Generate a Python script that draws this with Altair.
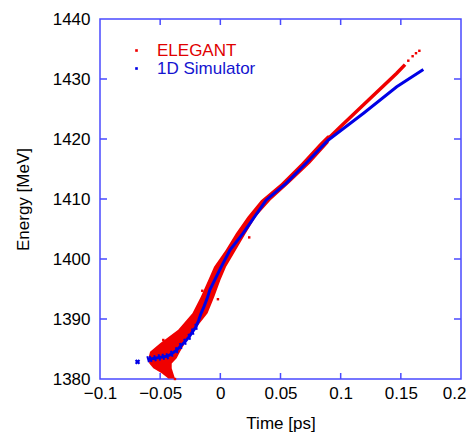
import altair as alt
import pandas as pd

RED = "#f00000"
BLUE = "#0000e6"
FRAME = "#4a4aff"

# ELEGANT: dense band of particles (energy level, left edge time, right edge time)
band_y = [1380.1, 1380.95, 1381.8, 1382.6, 1383.45, 1384.55, 1385.95, 1388.2, 1390.95,
          1393.7, 1396.5, 1398.7, 1401.5, 1404.3, 1407.05, 1409.8, 1412.6, 1415.95, 1419.3, 1420.6]
band_xl = [-0.0432, -0.0487, -0.0557, -0.0590, -0.0598, -0.0584, -0.0500, -0.0350, -0.0232,
           -0.0162, -0.0100, -0.0052, 0.0045, 0.0130, 0.0226, 0.0338, 0.0503, 0.0672, 0.0825, 0.0890]
band_xr = [-0.0377, -0.0391, -0.0404, -0.0404, -0.0363, -0.0335, -0.0294, -0.0214, -0.0106,
           -0.0050, 0.0001, 0.0048, 0.0130, 0.0212, 0.0295, 0.0418, 0.0571, 0.0748, 0.0898, 0.0925]
# ELEGANT upper thin trace
red_x = [0.0711, 0.0862, 0.1000, 0.1190, 0.1466, 0.1535]
red_y = [1415.95, 1419.4, 1422.1, 1425.7, 1430.95, 1432.4]
# ELEGANT isolated particles
red_dot_x = [0.1562, 0.1598, 0.1626, 0.1654, -0.0474, -0.0377, -0.0020, -0.0150, 0.0240]
red_dot_y = [1433.05, 1433.8, 1434.3, 1434.7, 1386.5, 1380.0, 1393.3, 1394.7, 1403.6]

# 1D Simulator
blue_x = [-0.0600, -0.0579, -0.0543, -0.0507, -0.0474, -0.0441, -0.0404, -0.0363, -0.0330,
          -0.0294, -0.0258, -0.0230, -0.0202, -0.0180, -0.0160, -0.0135, -0.0110, -0.0086,
          0.0000, 0.0080, 0.0190, 0.0380, 0.0546, 0.0712, 0.0895, 0.1190, 0.1466, 0.1687]
blue_y = [1383.3, 1383.33, 1383.45, 1383.6, 1383.7, 1383.8, 1384.2, 1384.8, 1385.5,
          1386.2, 1387.05, 1387.9, 1388.7, 1389.8, 1390.95, 1392.1, 1393.4, 1394.9,
          1398.4, 1401.5, 1404.3, 1409.8, 1412.6, 1415.95, 1419.8, 1424.3, 1428.7, 1431.6]
blob_x = [-0.0688]
blob_y = [1382.85]

series_names = ["ELEGANT", "1D Simulator"]
x_ticks = [-0.1, -0.05, 0, 0.05, 0.1, 0.15, 0.2]
y_ticks = [1380, 1390, 1400, 1410, 1420, 1430, 1440]
inner_x_ticks = [-0.05, 0, 0.05, 0.1, 0.15]
inner_y_ticks = [1390, 1400, 1410, 1420, 1430]

xs = alt.Scale(domain=[-0.1, 0.2], nice=False, zero=False)
ys = alt.Scale(domain=[1380, 1440], nice=False, zero=False)
xaxis = alt.Axis(
    title="Time [ps]", values=x_ticks, format="~g", labelPadding=6, titlePadding=14,
    labelFlush=False, labelOverlap=False,
    labelAlign={"expr": "datum.value > 0.19 ? 'right' : 'center'"},
    labelOffset={"expr": "datum.value > 0.19 ? 5 : 0"},
)
yaxis = alt.Axis(title="Energy [MeV]", values=y_ticks, format="d", labelPadding=10, titlePadding=20,
                 labelFlush=False, labelOverlap=False)


def X(field):
    return alt.X(f"{field}:Q", scale=xs, axis=xaxis)


def Y(field):
    return alt.Y(f"{field}:Q", scale=ys, axis=yaxis)


band_df = pd.DataFrame({"y": band_y, "xl": band_xl, "xr": band_xr})
red_df = pd.DataFrame({"x": red_x, "y": red_y})
red_dot_df = pd.DataFrame({"x": red_dot_x, "y": red_dot_y, "series": series_names[0]})
blue_df = pd.DataFrame({"x": blue_x, "y": blue_y})
dash_df = blue_df[blue_df["x"] <= -0.02]
blob_df = pd.DataFrame({"x": blob_x, "y": blob_y, "series": series_names[1]})

color = alt.Color(
    "series:N",
    scale=alt.Scale(domain=series_names, range=[RED, BLUE]),
    legend=alt.Legend(
        title=None,
        orient="none",
        legendX=28,
        legendY=23,
        symbolType="square",
        symbolSize=7,
        symbolStrokeWidth=0,
        labelOffset=12,
        labelFontSize=17,
        labelFont="Liberation Sans",
        rowPadding=0,
        padding=0,
        labelColor={"expr": "datum.label == 'ELEGANT' ? '#e00000' : '#1414d0'"},
    ),
)

band = alt.Chart(band_df).mark_area(orient="horizontal", color=RED).encode(
    y=Y("y"), x=X("xl"), x2="xr:Q"
)
red_line = alt.Chart(red_df).mark_line(color=RED, strokeWidth=3.5).encode(x=X("x"), y=Y("y"))
red_dots = alt.Chart(red_dot_df).mark_point(filled=True, size=6, opacity=1, shape="square").encode(
    x=X("x"), y=Y("y"), color=color
)
blue_line = alt.Chart(blue_df).mark_line(color=BLUE, strokeWidth=3).encode(x=X("x"), y=Y("y"))
blue_dash = alt.Chart(dash_df).mark_point(shape="stroke", angle=75, size=40, strokeWidth=2,
                                          color=BLUE, opacity=1).encode(x=X("x"), y=Y("y"))
blob = alt.Chart(blob_df).mark_point(shape="cross", angle=45, size=30, filled=True, opacity=1).encode(
    x=X("x"), y=Y("y"), color=color
)

xt_df = pd.DataFrame({"x": inner_x_ticks})
yt_df = pd.DataFrame({"y": inner_y_ticks})
tick_style = dict(color=FRAME, strokeWidth=1.5)
t_bottom = alt.Chart(xt_df).mark_rule(**tick_style).encode(x=X("x"), y=alt.value(360), y2=alt.value(354))
t_top = alt.Chart(xt_df).mark_rule(**tick_style).encode(x=X("x"), y=alt.value(0), y2=alt.value(6))
t_left = alt.Chart(yt_df).mark_rule(**tick_style).encode(y=Y("y"), x=alt.value(0), x2=alt.value(7))
t_right = alt.Chart(yt_df).mark_rule(**tick_style).encode(y=Y("y"), x=alt.value(361), x2=alt.value(354))

chart = (
    alt.layer(band, red_line, red_dots, blue_line, blue_dash, blob, t_bottom, t_top, t_left, t_right)
    .properties(
        width=361,
        height=360,
        autosize=alt.AutoSizeParams(type="none"),
        padding={"left": 92, "top": 11, "right": 6, "bottom": 55},
        background="white",
    )
    .configure_view(stroke=FRAME, strokeWidth=1.5)
    .configure_axis(
        domain=False,
        ticks=False,
        tickSize=0,
        grid=False,
        labelFont="Liberation Sans",
        labelFontSize=17,
        labelColor="black",
        titleFont="Liberation Sans",
        titleFontSize=17,
        titleFontWeight="normal",
        titleColor="black",
    )
)

chart.save("out.html", embed_options={"renderer": "svg", "actions": False})
